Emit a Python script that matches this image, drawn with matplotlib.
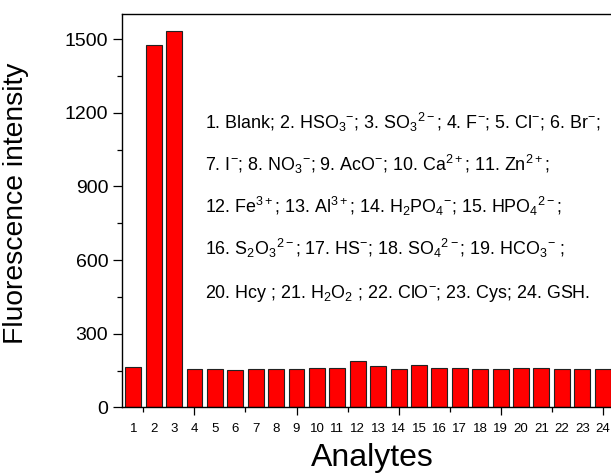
import numpy as np
import matplotlib
matplotlib.use('Agg')
import matplotlib.pyplot as plt
from matplotlib.transforms import blended_transform_factory

plt.rcParams['font.family'] = ['Liberation Sans', 'DejaVu Sans']
plt.rcParams['mathtext.fontset'] = 'custom'
plt.rcParams['mathtext.rm'] = 'Liberation Sans'
plt.rcParams['mathtext.it'] = 'Liberation Sans'
plt.rcParams['mathtext.default'] = 'regular'

# data
analytes = list(range(1, 25))
intensity = [166, 1475, 1532, 157, 157, 152, 155, 158, 158, 162, 160, 191,
             168, 157, 172, 162, 160, 155, 158, 160, 162, 158, 157, 155]
legend_lines = [
    "1. Blank; 2. HSO$_3$$^{-}$; 3. SO$_3$$^{2-}$; 4. F$^{-}$; 5. Cl$^{-}$; 6. Br$^{-}$;",
    "7. I$^{-}$; 8. NO$_3$$^{-}$; 9. AcO$^{-}$; 10. Ca$^{2+}$; 11. Zn$^{2+}$;",
    "12. Fe$^{3+}$; 13. Al$^{3+}$; 14. H$_2$PO$_4$$^{-}$; 15. HPO$_4$$^{2-}$;",
    "16. S$_2$O$_3$$^{2-}$; 17. HS$^{-}$; 18. SO$_4$$^{2-}$; 19. HCO$_3$$^{-}$ ;",
    "20. Hcy ; 21. H$_2$O$_2$ ; 22. ClO$^{-}$; 23. Cys; 24. GSH.",
]

fig = plt.figure(figsize=(6.11, 4.73), dpi=100)
ax = fig.add_axes([0.1997, 0.1385, 0.81, 0.8319])

ax.bar(analytes, intensity, width=0.78, color='#ff0000',
       edgecolor='#222222', linewidth=0.8)

ax.set_xlim(0.45, 24.7)
ax.set_ylim(0, 1602)
ax.set_yticks(np.arange(0, 1501, 300))
ax.set_yticks(np.arange(150, 1600, 300), minor=True)
ax.set_xticks([4, 9, 14, 19, 24])
ax.set_xticks([1.5, 6.5, 11.5, 16.5, 21.5], minor=True)
ax.set_xticklabels([])
for s in ax.spines.values():
    s.set_linewidth(1.0)
ax.tick_params(axis='x', which='major', direction='out', length=5.8, width=0.9)
ax.tick_params(axis='x', which='minor', direction='out', length=3.5, width=0.9)
ax.tick_params(axis='y', which='major', direction='out', length=6.5, width=0.9)
ax.tick_params(axis='y', which='minor', direction='out', length=3.5, width=0.9)
ax.tick_params(axis='y', labelsize=14, pad=3.5)

trans = blended_transform_factory(ax.transData, ax.transAxes)
for a in analytes:
    ax.text(a, -0.0546, str(a), transform=trans, ha='center', va='center',
            fontsize=9.5)

ax.set_ylabel('Fluorescence intensity', fontsize=20.3)
ax.yaxis.set_label_coords(-0.188, 0.52)
ax.text(0.506, -0.149, 'Analytes', transform=ax.transAxes,
        ha='center', va='baseline', fontsize=23)

for i, line in enumerate(legend_lines):
    ax.text(0.168, 0.708 - i * 0.1072, line, transform=ax.transAxes,
            ha='left', va='baseline', fontsize=12.9)

fig.savefig('out.png', dpi=100)
